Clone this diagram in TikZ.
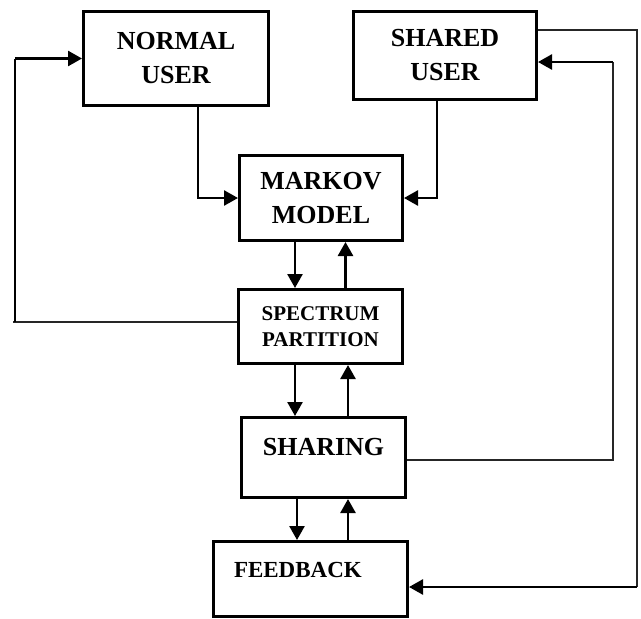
\documentclass[tikz,border=0pt]{standalone}
\usepackage{fontspec}
\setmainfont{Liberation Serif}
\usetikzlibrary{arrows.meta}
\tikzset{
  blk/.style={draw, line width=3pt, inner sep=0pt, align=center, font=\bfseries\fontsize{26}{34}\selectfont},
  arr/.style={line width=2.6pt, -{Triangle[length=14pt,width=15pt]}},
  fb/.style={line width=1.1pt, black!85}
}

\begin{document}
\begin{tikzpicture}[x=1pt,y=-1pt]
\useasboundingbox (0,0) rectangle (641,619);
\node[blk, minimum width=185pt, minimum height=94pt] (normal) at (176,58.5) {NORMAL\\USER};
\node[blk, minimum width=183pt, minimum height=88pt] (shared) at (445,55.5) {SHARED\\USER};
\node[blk, minimum width=163pt, minimum height=85pt] (markov) at (321,198) {MARKOV\\MODEL};
\node[blk, minimum width=164pt, minimum height=74pt, font=\bfseries\fontsize{21}{26}\selectfont] (spectrum) at (320.5,326.5) {SPECTRUM\\PARTITION};
\node[blk, minimum width=164pt, text height=37.5pt, text depth=42.5pt] (sharing) at (323.5,457.5) {SHARING};
\node[blk, minimum width=194pt, text width=153pt, inner xsep=20.5pt, align=left, text height=35.5pt, text depth=39.5pt, font=\bfseries\fontsize{23}{28}\selectfont] (feedback) at (310.5,579) {FEEDBACK};
\coordinate (lcorner) at (15,322);
\coordinate (lbend) at (15,58.5);
\coordinate (rbend) at (613,62);
\coordinate (obend) at (637,587);
% users into the model
\draw[arr] ([xshift=22pt]normal.south) |- (markov.west);
\draw[arr] ([xshift=-8pt]shared.south) |- (markov.east);
% up and down between the blocks
\draw[arr] ([xshift=-26pt]markov.south) -- ([xshift=-26pt]markov.south |- spectrum.north);
\draw[arr] ([xshift=25pt]spectrum.north) -- ([xshift=25pt]spectrum.north |- markov.south);
\draw[arr] ([xshift=-25.5pt]spectrum.south) -- ([xshift=-25.5pt]spectrum.south |- sharing.north);
\draw[arr] ([xshift=24.5pt]sharing.north) -- ([xshift=24.5pt]sharing.north |- spectrum.south);
\draw[arr] ([xshift=-26.5pt]sharing.south) -- ([xshift=-26.5pt]sharing.south |- feedback.north);
\draw[arr] ([xshift=37.5pt]feedback.north) -- ([xshift=37.5pt]feedback.north |- sharing.south);
% loops back
\draw[fb] ([yshift=4.5pt]spectrum.west) -- ([xshift=-2pt]lcorner);
\draw[line width=2pt] (lcorner) -- (lbend);
\draw[arr] (lbend) -- (normal.west);
\draw[fb] ([yshift=-2.5pt]sharing.east) -| (rbend);
\draw[arr] (rbend) -- (rbend -| shared.east);
\draw[fb] ([yshift=25.5pt]shared.east) -| (obend);
\draw[arr] (obend) -- (obend -| feedback.east);
\end{tikzpicture}
\end{document}
